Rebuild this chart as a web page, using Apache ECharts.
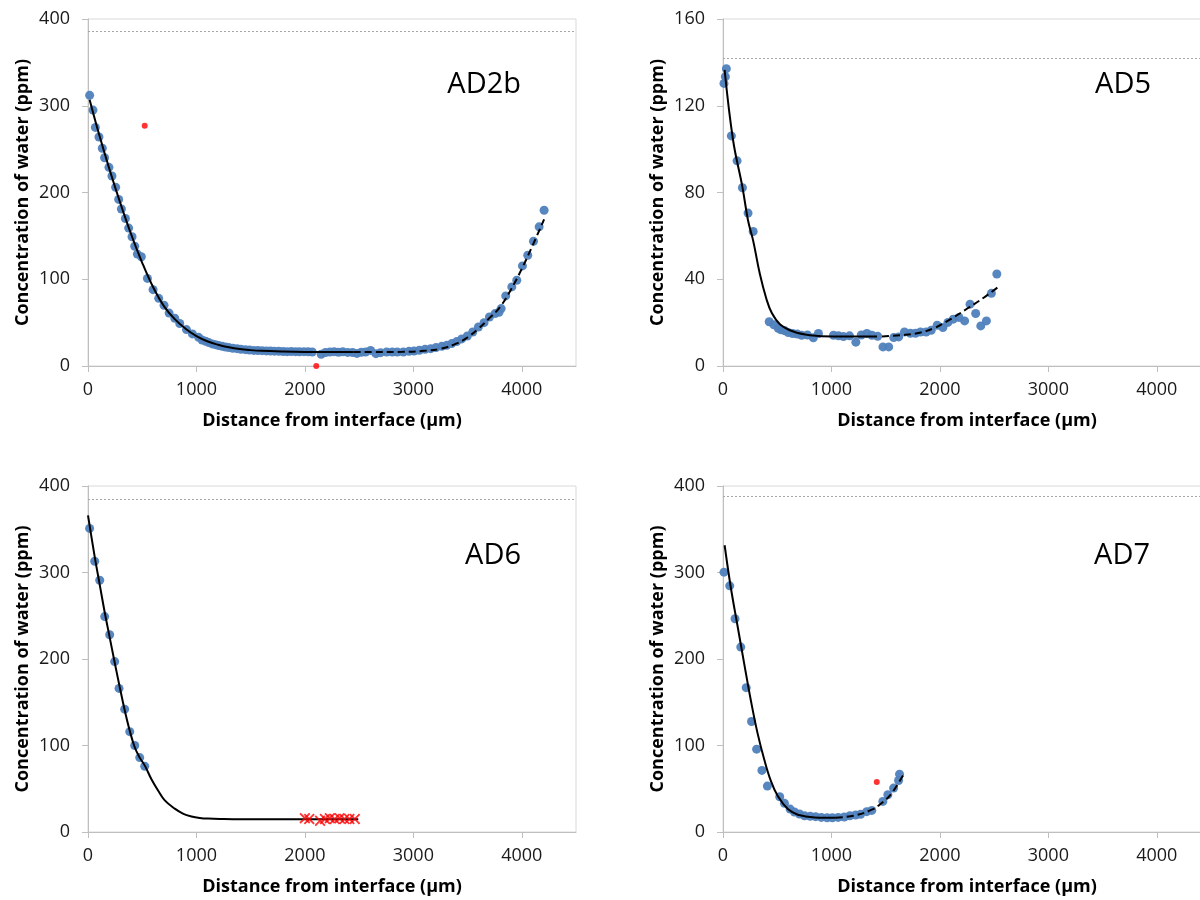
<!DOCTYPE html>
<html><head><meta charset="utf-8">
<script src="https://cdn.jsdelivr.net/npm/echarts@6/dist/echarts.min.js"></script>
<style>html,body{margin:0;padding:0;background:#fff}#c{width:1200px;height:900px}</style>
</head><body><div id="c"></div>
<script>
// ---------------- data ----------------
const panelNames = ['AD2b', 'AD5', 'AD6', 'AD7'];
const xTickValues = [0, 1000, 2000, 3000, 4000];
const yTickValues400 = [0, 100, 200, 300, 400];
const yTickValues160 = [0, 40, 80, 120, 160];
const xAxisTitle = 'Distance from interface (µm)';
const yAxisTitle = 'Concentration of water (ppm)';
const saturationLevels = [386, 142, 385, 388];

const ad2bPoints = [[15,312],[46,295],[68,275],[101,264],[132,251],[153,240],[193,229],[221,219],[255,206],[283,192],[308,181],[345,170],[375,159],[406,149],[431,138],[455,129],[492,126],[548,101],[600,88],[652,78],[701,70],[748,61],[800,55],[846,49],[908,42],[963,37],[1020,33],[1052,30],[1085,28.5],[1114,27],[1145,25.5],[1175,24.6],[1205,23.5],[1237,22.7],[1268,21.8],[1298,21.2],[1335,20.5],[1375,20],[1410,19.3],[1452,18.8],[1490,18.3],[1529,18],[1567,17.8],[1606,17.7],[1645,17.4],[1683,17.3],[1720,17.1],[1760,16.9],[1800,16.7],[1837,16.5],[1875,16.6],[1914,16.5],[1950,16.4],[1991,16.5],[2030,16.3],[2068,16.2],[2150,13.5],[2190,15.5],[2230,16],[2270,16.5],[2310,15.8],[2350,16.3],[2395,15.7],[2440,15.5],[2480,14.5],[2520,15.8],[2560,16],[2606,18],[2655,14.2],[2698,15.4],[2754,16.2],[2806,16.2],[2852,16.2],[2908,16.2],[2960,16.9],[3006,17.3],[3055,18.1],[3108,19.2],[3160,20],[3209,21.2],[3262,22.7],[3308,23.8],[3354,25.8],[3400,28.1],[3446,31.2],[3498,34.6],[3548,39.2],[3600,45],[3652,50],[3702,56.5],[3754,60.4],[3790,62],[3810,66.2],[3852,80.8],[3908,91.2],[3954,98.8],[4006,115.4],[4055,127.7],[4108,143.8],[4160,160.4],[4206,179.6]];
const ad2bOutliers = [[523,277],[2105,0]];
const ad2bFitSolid = [[15,307],[100,268],[200,226],[300,187],[400,151],[500,119],[600,91],[700,69],[800,54],[900,43],[1000,34.5],[1100,28.5],[1200,24.5],[1300,21.5],[1400,19.5],[1500,18.3],[1600,17.5],[1800,16.7],[2000,16.2],[2200,16],[2450,16]];
const ad2bFitDashed = [[2450,16],[2700,16],[2900,16.3],[3100,17.5],[3250,19.8],[3400,26],[3500,33],[3600,43],[3700,55],[3800,68],[3900,88],[4000,112],[4100,139],[4206,169]];

const ad5Points = [[9,130.3],[22,133.4],[31,137.1],[77,106.1],[130,94.6],[179,82.2],[231,70.5],[278,62],[426,20.4],[469,19],[509,17.4],[534,16.7],[571,16.2],[602,15.4],[642,15],[685,14.7],[725,14.2],[778,14.3],[833,13],[880,15],[1019,14.2],[1065,13.9],[1111,13.6],[1167,13.9],[1225,11],[1275,14.3],[1327,15],[1373,14.2],[1426,13.7],[1475,8.8],[1528,8.8],[1574,13.1],[1620,13.4],[1673,15.7],[1728,15.1],[1775,15.1],[1821,15.7],[1873,15.7],[1920,16.5],[1975,18.8],[2028,17.7],[2074,20.1],[2123,21.6],[2176,22.4],[2228,20.8],[2278,28.5],[2330,24.2],[2377,18.5],[2429,20.8],[2475,33.5],[2525,42.4]];
const ad5FitSolid = [[15,136.5],[93,104.1],[179,82.5],[231,67.1],[278,57.8],[340,42.4],[401,30.8],[448,24.7],[525,19.3],[648,15.9],[802,14.2],[1019,13.6],[1420,13.6]];
const ad5FitDashed = [[1466,13.6],[1636,14.2],[1790,15.1],[1944,17.4],[2099,21.6],[2253,26.5],[2407,31.6],[2531,36.2]];

const ad6Points = [[15,351],[62,313],[108,291],[154,249],[200,228],[246,197],[286,166],[338,142],[385,116],[431,100],[477,86],[523,76]];
const ad6Excluded = [[2000,16],[2040,15],[2140,13],[2185,15],[2230,16],[2275,15],[2320,16],[2365,15],[2410,15],[2460,15]];
const ad6FitSolid = [[0,366],[62,318],[108,286],[154,254],[200,225],[246,196],[292,168],[338,141],[385,117],[431,98],[477,86],[523,77],[585,61],[646,48],[708,36.5],[800,27],[880,21],[954,18],[1030,16.3],[1108,15.5],[1250,15],[1415,14.7],[1800,14.6],[2492,14.6]];

const ad7Points = [[9,300.4],[62,284.6],[111,246.5],[164,213.8],[214,166.9],[263,127.7],[310,95.8],[359,71.2],[409,53.1],[523,40.8],[567,33.1],[619,26.5],[659,23.1],[706,20.8],[752,18.8],[805,18.1],[854,17.7],[907,16.9],[960,16.5],[1009,16.5],[1062,16.9],[1118,17.3],[1170,18.8],[1223,19.6],[1269,20.4],[1325,23.5],[1372,25],[1474,35.4],[1520,43.1],[1573,50.8],[1619,59.6],[1628,66.9]];
const ad7Outliers = [[1418,57.7]];
const ad7FitSolid = [[15,331.5],[71,283.5],[133,239],[195,195],[257,152],[319,114],[381,83.5],[443,58.5],[505,41.5],[598,26.5],[690,20],[845,16.9],[1040,16.5]];
const ad7FitDashed = [[1040,16.5],[1217,19.2],[1372,25.8],[1464,33.5],[1557,45],[1675,68.8]];

// ---------------- layout / style ----------------
const FONT = '"Open Sans", "Noto Sans", sans-serif';
const BLUE = '#4f81bd';
const AXIS_GRAY = '#bfbfbf';
const grids = [
  {left: 88, top: 19, width: 488, height: 347},
  {left: 723, top: 19, width: 488, height: 347},
  {left: 88, top: 486, width: 488, height: 346},
  {left: 723, top: 486, width: 488, height: 346}
];
const yMax = [400, 160, 400, 400];
const yInterval = [100, 40, 100, 100];
const yTicks = [yTickValues400, yTickValues160, yTickValues400, yTickValues400];
const titleAnchors = [[521, 85], [1151, 85], [521, 556], [1150, 556]];

const panels = [
  {points: ad2bPoints, outliers: ad2bOutliers, solid: ad2bFitSolid, dashed: ad2bFitDashed},
  {points: ad5Points, outliers: [], solid: ad5FitSolid, dashed: ad5FitDashed},
  {points: ad6Points, outliers: [], crosses: ad6Excluded, solid: ad6FitSolid, dashed: null},
  {points: ad7Points, outliers: ad7Outliers, solid: ad7FitSolid, dashed: ad7FitDashed}
];

const xAxes = [], yAxes = [], series = [], graphics = [];
const gridOpts = grids.map(g => Object.assign({
  show: true, borderColor: '#d9d9d9', borderWidth: 1, backgroundColor: 'transparent',
  containLabel: false, outerBoundsMode: 'none'
}, g));

const crossPath = 'path://M0,1.2 L1.2,0 L5,3.8 L8.8,0 L10,1.2 L6.2,5 L10,8.8 L8.8,10 L5,6.2 L1.2,10 L0,8.8 L3.8,5 Z';
const plain = v => String(v);

panels.forEach((p, i) => {
  xAxes.push({
    type: 'value', gridIndex: i, min: 0, max: 4500, interval: 1000,
    axisLine: {show: true, onZero: false, lineStyle: {color: AXIS_GRAY, width: 1}},
    axisTick: {show: true, length: 6, inside: false, customValues: xTickValues, lineStyle: {color: AXIS_GRAY}},
    axisLabel: {show: true, customValues: xTickValues, formatter: plain, margin: 15, fontSize: 18, color: '#1a1a1a', fontFamily: FONT},
    splitLine: {show: false},
    name: xAxisTitle, nameLocation: 'middle', nameGap: 46,
    nameTextStyle: {fontSize: 18, fontWeight: 'bold', color: '#000', fontFamily: FONT}
  });
  yAxes.push({
    type: 'value', gridIndex: i, min: 0, max: yMax[i], interval: yInterval[i],
    axisLine: {show: true, onZero: false, lineStyle: {color: AXIS_GRAY, width: 1}},
    axisTick: {show: true, length: 6, inside: false, customValues: yTicks[i], lineStyle: {color: AXIS_GRAY}},
    axisLabel: {show: true, customValues: yTicks[i], formatter: plain, margin: 18, fontSize: 18, color: '#1a1a1a', fontFamily: FONT},
    splitLine: {show: false},
    name: yAxisTitle, nameLocation: 'middle', nameGap: 56,
    nameTextStyle: {fontSize: 18, fontWeight: 'bold', color: '#000', fontFamily: FONT}
  });
  series.push({
    type: 'line', xAxisIndex: i, yAxisIndex: i, data: [], silent: true,
    markLine: {
      silent: true, symbol: ['none', 'none'], label: {show: false},
      lineStyle: {type: [2, 2], color: '#a6a6a6', width: 1},
      data: [{yAxis: saturationLevels[i]}], animation: false
    }
  });
  series.push({
    type: 'scatter', xAxisIndex: i, yAxisIndex: i, data: p.points,
    symbol: 'circle', symbolSize: 9, itemStyle: {color: BLUE, opacity: 0.95}, z: 2
  });
  series.push({
    type: 'line', xAxisIndex: i, yAxisIndex: i, data: p.solid, showSymbol: false,
    smooth: 0.4, lineStyle: {color: '#000', width: 2, type: 'solid'}, z: 3
  });
  if (p.dashed) series.push({
    type: 'line', xAxisIndex: i, yAxisIndex: i, data: p.dashed, showSymbol: false,
    smooth: 0.4, lineStyle: {color: '#000', width: 2, type: [7, 4]}, z: 3
  });
  if (p.outliers && p.outliers.length) series.push({
    type: 'scatter', xAxisIndex: i, yAxisIndex: i, data: p.outliers,
    symbol: 'circle', symbolSize: 6, itemStyle: {color: '#ff0000'}, z: 4
  });
  if (p.crosses) series.push({
    type: 'scatter', xAxisIndex: i, yAxisIndex: i, data: p.crosses,
    symbol: crossPath, symbolSize: 11, itemStyle: {color: '#ff0000'}, z: 4
  });
  graphics.push({
    type: 'text', x: titleAnchors[i][0], y: titleAnchors[i][1], z: 10,
    style: {text: panelNames[i], font: '29px ' + FONT, fill: '#000',
      textAlign: 'right', align: 'right', textVerticalAlign: 'middle', verticalAlign: 'middle'}
  });
});

const chart = echarts.init(document.getElementById('c'), null, {renderer: 'canvas'});
chart.setOption({
  animation: false,
  backgroundColor: '#ffffff',
  grid: gridOpts,
  xAxis: xAxes,
  yAxis: yAxes,
  series: series,
  graphic: graphics
});
</script>
</body></html>
